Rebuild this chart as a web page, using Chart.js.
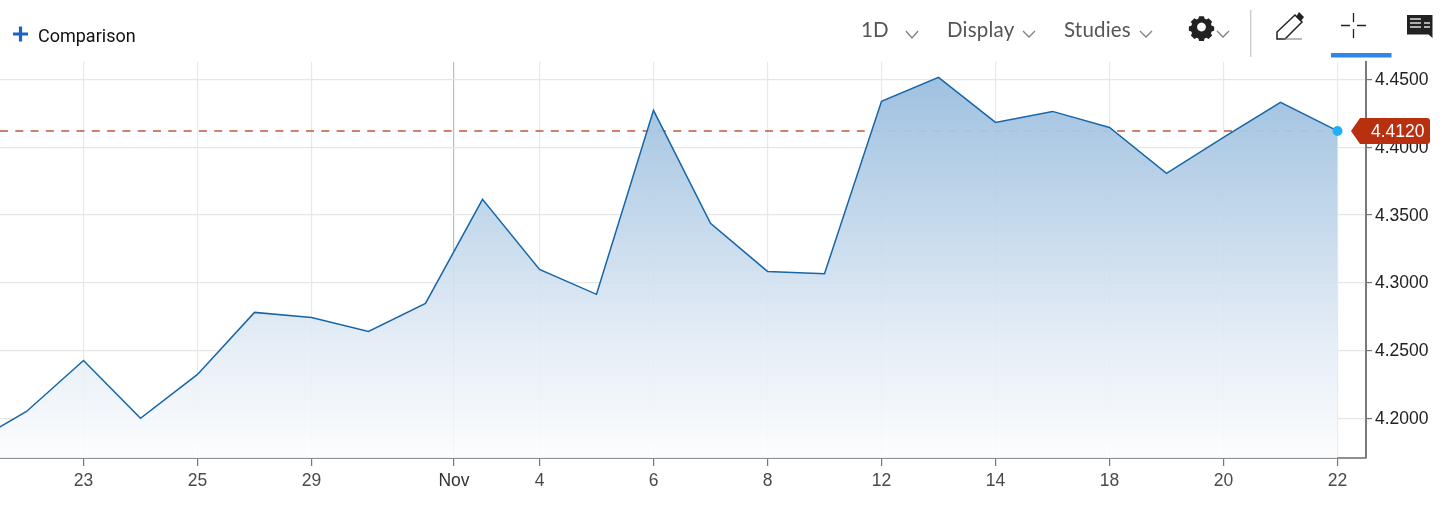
<!DOCTYPE html>
<html><head><meta charset="utf-8">
<script src="https://cdn.jsdelivr.net/npm/chart.js@4"></script>
<style>
html,body{margin:0;padding:0;background:#fff;width:1456px;height:515px;overflow:hidden}
#wrap{position:relative;width:1456px;height:515px}
canvas{position:absolute;left:0;top:0}
.t{position:absolute;white-space:nowrap;line-height:1}
.m{font-family:Lato,"Open Sans",sans-serif;font-size:20.500px;color:#555;top:19px;letter-spacing:.2px}
svg{position:absolute;overflow:visible}
</style></head><body>
<div id="wrap">
<canvas id="c" width="1456" height="515"></canvas>
<svg style="left:0;top:0" width="1456" height="62" viewBox="0 0 1456 62">
  <path d="M13 34H28M20.500 26.500V41.500" stroke="#1a63c9" stroke-width="3.200" fill="none"/>
  <g fill="none" stroke="#808080" stroke-width="1.300">
    <path d="M906 31l6 7 6-7M1023 31l6 6 6-6M1140 31l6 6 6-6"/>
    <path d="M1217 31l6 6 6-6"/>
  </g>
  <g transform="translate(1201.500 27) scale(.8)">
    <path fill="#222" d="M-3-13.500h6l.8 3 2.300 1 2.800-1.500 4.400 4.400-1.500 2.800 1 2.300 3 .8v5.400l-3 .8-1 2.300 1.500 2.800-4.400 4.400-2.800-1.500-2.300 1-.8 3h-6l-.8-3-2.300-1-2.800 1.500-4.400-4.400 1.500-2.800-1-2.300-3-.8v-5.400l3-.8 1-2.300-1.500-2.800 4.400-4.400 2.800 1.500 2.300-1zM0-5.500a5.500 5.500 0 1 0 .01 0z" fill-rule="evenodd"/>
  </g>
  <path d="M1250.700 10V57" stroke="#cfcfcf" stroke-width="1.500"/>
  <path d="M1277 39V32L1295 15l7 7-17 17z" fill="none" stroke="#222" stroke-width="1.500"/>
  <path d="M1296 17l3-5 5 5-3 4z" fill="#222"/>
  <path d="M1284 39H1302" stroke="#777" stroke-width="1"/>
  <path d="M1353.500 13V22M1353.500 29V38M1341 25.500H1350M1357 25.500H1366" stroke="#222" stroke-width="1.300" fill="none"/>
  <rect x="1331" y="53" width="60.500" height="4.500" fill="#2f86e8"/>
  <path d="M1407 15h25.500v23l-4-3.500h-21.500z" fill="#222"/>
  <path d="M1410 19h11M1410 23h11M1410 27h11M1424 23h6M1424 27h6" stroke="#ddd" stroke-width="1.300"/>
</svg>
<div class="t" style="left:38px;top:25px;font:18px Roboto,sans-serif;color:#111">Comparison</div>
<div class="t m" style="left:861px">1D</div>
<div class="t m" style="left:947px">Display</div>
<div class="t m" style="left:1064px">Studies</div>
</div>
<script>
const dates = ["Oct 21","Oct 22","Oct 23","Oct 24","Oct 25","Oct 28","Oct 29","Oct 30","Oct 31","Nov 1","Nov 4","Nov 5","Nov 6","Nov 7","Nov 8","Nov 11","Nov 12","Nov 13","Nov 14","Nov 15","Nov 18","Nov 19","Nov 20","Nov 21","Nov 22"];
const yields = [4.1810,4.2053,4.2429,4.2002,4.2326,4.2783,4.2746,4.2643,4.2849,4.3616,4.3100,4.2916,4.4272,4.3439,4.3085,4.3067,4.4338,4.4515,4.4183,4.4264,4.4146,4.3807,4.4073,4.4331,4.4120];
const xTickSlots = [2,4,6,8.5,10,12,14,16,18,20,22,24];
const xTickLabels = ["23","25","29","Nov","4","6","8","12","14","18","20","22"];
const yTickValues = [4.20,4.25,4.30,4.35,4.40,4.45];
const lastValue = 4.4120;
const xRange = [0.535,24.5], yRange = [4.1710,4.4628];

const AXIS = '"Liberation Sans",Arial,sans-serif';
const pennant = {
  id:'pennant',
  afterDraw(ch){
    const c=ch.ctx, y=ch.scales.y.getPixelForValue(lastValue);
    const tip=1351,l=1360,r=1430,t=y-13,b=y+13,rad=3;
    c.save();
    c.fillStyle='#b8300f';
    c.beginPath();
    c.moveTo(tip,y);c.lineTo(l,t);c.lineTo(r-rad,t);c.quadraticCurveTo(r,t,r,t+rad);
    c.lineTo(r,b-rad);c.quadraticCurveTo(r,b,r-rad,b);c.lineTo(l,b);c.closePath();c.fill();
    c.fillStyle='#fff';c.font='17.500px '+AXIS;c.textAlign='left';c.textBaseline='middle';
    c.fillText(lastValue.toFixed(4),1371,y+1);
    c.restore();
  }
};
const fillGrad = ctx=>{
  const a=ctx.chart.chartArea; if(!a) return 'rgba(160,192,224,.5)';
  const g=ctx.chart.ctx.createLinearGradient(0,a.top,0,a.bottom);
  g.addColorStop(0,'rgba(150,187,222,.96)');
  g.addColorStop(.35,'rgba(186,210,232,.92)');
  g.addColorStop(.7,'rgba(226,235,245,.9)');
  g.addColorStop(1,'rgba(252,253,254,.9)');
  return g;
};
new Chart(document.getElementById('c'),{
  type:'line',
  data:{datasets:[
    {data:yields.map((v,i)=>({x:i,y:v})),borderColor:'#1666a8',borderWidth:1.500,tension:0,
     fill:'start',backgroundColor:fillGrad,order:1,
     pointRadius:c=>c.dataIndex===yields.length-1?5:0,
     pointBackgroundColor:'#1fb0f5',pointBorderWidth:0},
    {data:[{x:xRange[0],y:lastValue},{x:yields.length-1,y:lastValue}],borderColor:'#c4573f',borderWidth:1.500,
     borderDash:[8,7.300],pointRadius:0,fill:false,order:2}
  ]},
  options:{
    responsive:false,animation:false,events:[],
    layout:{autoPadding:false,padding:{top:62,left:0,right:0,bottom:0}},
    plugins:{legend:{display:false},tooltip:{enabled:false},title:{display:false}},
    scales:{
      x:{type:'linear',min:xRange[0],max:xRange[1],
        afterBuildTicks:s=>{s.ticks=xTickSlots.map(v=>({value:v}))},
        afterFit:s=>{s.height=57;s.paddingLeft=0;s.paddingRight=0},
        border:{color:'#8f8f8f',width:2},
        grid:{color:c=>c.tick&&c.tick.value===8.5?'#bdbdbd':'#e8e8e8',lineWidth:1.200,tickLength:8,
              tickColor:'#777',drawTicks:true},
        ticks:{autoSkip:false,maxRotation:0,padding:5,font:{family:AXIS,size:17.500},
               color:c=>c.tick&&c.tick.value===8.5?'#333':'#4a4a4a',
               callback:v=>xTickLabels[xTickSlots.indexOf(v)]}
      },
      y:{type:'linear',position:'right',min:yRange[0],max:yRange[1],
        afterBuildTicks:s=>{s.ticks=yTickValues.map(v=>({value:v}))},
        afterFit:s=>{s.width=90},
        border:{color:'#7a7a7a',width:2},
        grid:{color:'#e6e6e6',lineWidth:1.200,tickLength:6,tickColor:'#777'},
        ticks:{padding:3,labelOffset:0.600,font:{family:AXIS,size:17.500},color:'#222',
               callback:v=>Number(v).toFixed(4)}
      }
    }
  },
  plugins:[pennant]
});
</script>
</body></html>
